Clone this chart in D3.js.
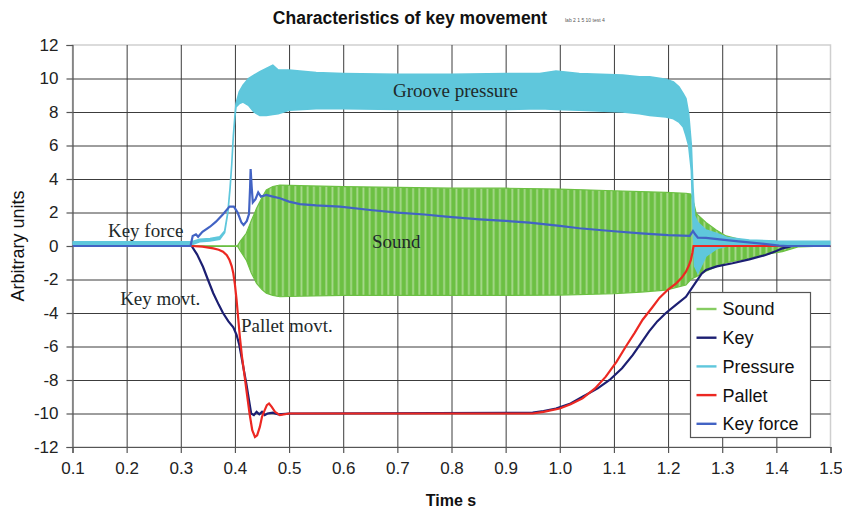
<!DOCTYPE html>
<html>
<head>
<meta charset="utf-8">
<script src="https://cdn.jsdelivr.net/npm/d3@7"></script>
<style>
  html, body { margin: 0; padding: 0; background: #fff; }
  svg { display: block; }
</style>
</head>
<body>
<svg id="chart" width="842" height="509"></svg>
<script>
// ---- data (time in s, values in arbitrary units) ----
const xTicks = [0.1,0.2,0.3,0.4,0.5,0.6,0.7,0.8,0.9,1.0,1.1,1.2,1.3,1.4,1.5];
const yTicks = [-12,-10,-8,-6,-4,-2,0,2,4,6,8,10,12];
const seriesNames = ["Sound","Key","Pressure","Pallet","Key force"];

// Sound: envelope of the waveform
const soundT  = [0.10,0.405,0.41,0.421,0.43,0.44,0.45,0.458,0.47,0.483,0.52,0.60,0.70,0.80,0.90,1.00,1.10,1.15,1.196,1.233,1.242,1.248,1.252,1.27,1.289,1.307,1.35,1.37,1.411,1.44,1.50];
const soundHi = [0,0.02,0.3,0.76,1.5,2.25,2.9,3.34,3.55,3.64,3.6,3.55,3.5,3.45,3.45,3.4,3.3,3.25,3.2,3.15,3.1,2.5,1.95,1.4,0.95,0.6,0.25,0.12,0.03,0,0];
const soundLo = [0,-0.02,-0.3,-0.84,-1.6,-2.23,-2.6,-2.82,-2.95,-3.03,-3.0,-2.95,-2.95,-2.95,-2.95,-2.93,-2.85,-2.75,-2.63,-2.33,-2.0,-1.9,-1.83,-1.5,-1.24,-1.0,-0.73,-0.55,-0.34,-0.05,0];

// Key movement
const keyT = [0.10,0.32,0.33,0.341,0.35,0.36,0.37,0.378,0.388,0.397,0.403,0.408,0.412,0.417,0.421,0.426,0.43,0.435,0.44,0.445,0.45,0.455,0.46,0.47,0.48,0.50,0.95,0.97,0.993,1.02,1.042,1.07,1.092,1.115,1.135,1.15,1.165,1.18,1.196,1.215,1.233,1.242,1.252,1.262,1.27,1.29,1.319,1.35,1.38,1.40,1.411,1.43,1.50];
const keyV = [0,0,-0.5,-1.24,-2.0,-2.82,-3.5,-4.0,-4.5,-4.85,-5.3,-5.9,-6.6,-7.5,-8.2,-9.2,-10.0,-10.1,-9.9,-10.05,-9.9,-10.1,-10.0,-9.95,-10.05,-10,-9.95,-9.85,-9.7,-9.4,-9.0,-8.5,-8.0,-7.3,-6.5,-5.8,-5.1,-4.5,-4.0,-3.5,-3.03,-2.6,-2.13,-1.65,-1.43,-1.22,-1.03,-0.8,-0.54,-0.3,-0.14,0,0];

// Groove pressure: envelope
const pressureT  = [0.10,0.32,0.335,0.354,0.372,0.381,0.387,0.391,0.394,0.397,0.40,0.402,0.408,0.415,0.425,0.435,0.446,0.458,0.47,0.48,0.50,0.55,0.60,0.70,0.80,0.90,0.963,0.993,1.036,1.116,1.147,1.166,1.196,1.21,1.22,1.228,1.233,1.238,1.243,1.246,1.249,1.255,1.27,1.29,1.31,1.35,1.40,1.50];
const pressureHi = [0.25,0.25,0.4,0.45,0.55,0.9,2.05,3.5,4.84,6.6,7.8,8.5,9.2,9.6,10.0,10.2,10.4,10.6,10.8,10.5,10.5,10.35,10.3,10.25,10.25,10.3,10.3,10.45,10.3,10.2,10.1,10.1,9.95,9.8,9.5,9.1,8.8,7.9,6.0,3.5,1.8,1.4,0.95,0.75,0.5,0.35,0.3,0.28];
const pressureLo = [0.08,0.08,0.25,0.3,0.4,0.8,2.0,3.4,4.8,6.5,7.7,8.3,8.5,8.6,8.4,8.0,7.8,7.8,7.85,7.9,8.1,8.2,8.2,8.15,8.15,8.15,8.2,8.15,8.1,8.0,7.9,7.8,7.7,7.6,7.4,7.1,6.6,6.0,4.5,1.5,-1.2,-1.6,-0.6,-0.15,0.0,0.0,0.05,0.08];

// Pallet movement
const palletT = [0.10,0.32,0.34,0.36,0.37,0.378,0.385,0.39,0.394,0.397,0.40,0.403,0.406,0.409,0.413,0.418,0.422,0.427,0.432,0.437,0.441,0.446,0.45,0.455,0.459,0.463,0.468,0.474,0.483,0.50,0.95,0.97,1.00,1.02,1.042,1.065,1.085,1.105,1.122,1.138,1.153,1.17,1.184,1.20,1.215,1.225,1.233,1.238,1.242,1.245,1.247,1.50];
const palletV = [0,0,-0.04,-0.14,-0.22,-0.34,-0.55,-0.84,-1.2,-1.63,-2.3,-3.2,-4.3,-5.4,-6.6,-7.8,-8.8,-10.0,-11.0,-11.4,-11.3,-10.8,-10.2,-9.8,-9.5,-9.4,-9.6,-9.9,-10.1,-10,-10,-9.9,-9.7,-9.45,-9.1,-8.5,-7.8,-6.9,-6.0,-5.2,-4.4,-3.7,-3.1,-2.6,-2.23,-1.9,-1.53,-1.2,-0.84,-0.4,0,0];

// Key force
const forceT = [0.10,0.318,0.322,0.328,0.332,0.34,0.354,0.365,0.378,0.39,0.398,0.405,0.412,0.416,0.422,0.426,0.428,0.429,0.431,0.433,0.438,0.443,0.448,0.458,0.47,0.483,0.50,0.52,0.55,0.594,0.65,0.70,0.75,0.79,0.852,0.90,0.944,1.00,1.036,1.10,1.15,1.20,1.24,1.246,1.25,1.255,1.27,1.295,1.33,1.368,1.405,1.42,1.50];
const forceV = [0,0,0.6,0.7,0.55,0.85,1.15,1.45,1.9,2.35,2.35,2.0,1.4,1.25,1.5,1.9,3.5,4.6,3.5,2.6,2.8,3.2,2.95,3.05,2.95,2.85,2.65,2.5,2.42,2.35,2.15,1.99,1.88,1.75,1.59,1.5,1.39,1.2,1.06,0.88,0.75,0.65,0.6,0.9,0.7,0.5,0.48,0.4,0.28,0.16,0.02,0,0];

// Text annotations drawn inside the plot
const notes = [
  {text: "Groove pressure", t: 0.692, v: 8.9},
  {text: "Sound",           t: 0.653, v: -0.1},
  {text: "Key force",       t: 0.1655, v: 0.55},
  {text: "Key movt.",       t: 0.188, v: -3.5},
  {text: "Pallet movt.",    t: 0.411, v: -5.15}
];

// ---- layout ----
const svg = d3.select("#chart");
const x = d3.scaleLinear().domain([0.1, 1.5]).range([72.5, 830.5]);
const y = d3.scaleLinear().domain([-12, 12]).range([447, 45]);
const colors = {
  "Sound": "#86cc62", "Key": "#1c1f72", "Pressure": "#5fc7dc",
  "Pallet": "#ec2822", "Key force": "#4263c4"
};
const sans = "'Liberation Sans', Arial, sans-serif";
const serif = "'Liberation Serif', 'Times New Roman', serif";

// stripe pattern for the sound waveform
const defs = svg.append("defs");
const pat = defs.append("pattern").attr("id", "soundFill")
  .attr("patternUnits", "userSpaceOnUse").attr("width", 6.2).attr("height", 20);
pat.append("rect").attr("width", 6.2).attr("height", 20).attr("fill", "#6cc043");
pat.append("rect").attr("x", 3).attr("width", 1.8).attr("height", 20).attr("fill", "#a7d98c");

defs.append("clipPath").attr("id", "plotClip").append("rect")
  .attr("x", 72.5).attr("y", 45).attr("width", 758).attr("height", 402);

// plot frame (light) and grid (dark)
svg.append("rect").attr("x", 72.5).attr("y", 45).attr("width", 758).attr("height", 402)
  .attr("fill", "none").attr("stroke", "#cfcfcf").attr("stroke-width", 1.5);

const gridX = svg.append("g").attr("transform", "translate(0,447)")
  .call(d3.axisBottom(x).tickValues(xTicks.slice(1, -1)).tickSize(-402).tickFormat(""));
gridX.select(".domain").remove();
gridX.selectAll("line").attr("stroke", "#3c3c3c").attr("stroke-width", 1);

const gridY = svg.append("g").attr("transform", "translate(72.5,0)")
  .call(d3.axisLeft(y).tickValues(yTicks.slice(1, -1)).tickSize(-758).tickFormat(""));
gridY.select(".domain").remove();
gridY.selectAll("line").attr("stroke", "#3c3c3c").attr("stroke-width", 1);

// axes
const xAxis = svg.append("g").attr("transform", "translate(0,447)")
  .call(d3.axisBottom(x).tickValues(xTicks).tickSize(6).tickPadding(9).tickFormat(d3.format(".1f")));
const yAxis = svg.append("g").attr("transform", "translate(72.5,0)")
  .call(d3.axisLeft(y).tickValues(yTicks).tickSize(6).tickPadding(8).tickFormat(d => d));
[xAxis, yAxis].forEach(a => {
  a.select(".domain").attr("stroke", "#555").attr("stroke-width", 1.2);
  a.selectAll(".tick line").attr("stroke", "#555").attr("stroke-width", 1.2);
  a.selectAll(".tick text").attr("font-family", sans).attr("font-size", 17).attr("fill", "#222");
});

// series
const plot = svg.append("g").attr("clip-path", "url(#plotClip)");
const zip = (ts, vs) => ts.map((t, i) => [t, vs[i]]);
const line = d3.line().x(d => x(d[0])).y(d => y(d[1]));
const band = d3.area().x(d => x(d.t)).y0(d => y(d.lo)).y1(d => y(d.hi));

const soundData = soundT.map((t, i) => ({t, hi: soundHi[i], lo: soundLo[i]}));
plot.append("path").datum(soundData).attr("d", band)
  .attr("fill", "url(#soundFill)").attr("stroke", "#6cc043").attr("stroke-width", 1.2);

plot.append("path").datum(zip(keyT, keyV)).attr("d", line)
  .attr("fill", "none").attr("stroke", colors["Key"]).attr("stroke-width", 2.2);

const pressData = pressureT.map((t, i) => ({t, hi: pressureHi[i], lo: pressureLo[i]}));
plot.append("path").datum(pressData).attr("d", band)
  .attr("fill", colors["Pressure"]).attr("stroke", colors["Pressure"]).attr("stroke-width", 1.6);

plot.append("path").datum(zip(palletT, palletV)).attr("d", line)
  .attr("fill", "none").attr("stroke", colors["Pallet"]).attr("stroke-width", 2.2);

plot.append("path").datum(zip(forceT, forceV)).attr("d", line)
  .attr("fill", "none").attr("stroke", colors["Key force"]).attr("stroke-width", 2.2);

// annotations
svg.append("g").selectAll("text").data(notes).join("text")
  .attr("x", d => x(d.t)).attr("y", d => y(d.v))
  .attr("font-family", serif).attr("font-size", 19).attr("fill", "#1e2a2a")
  .text(d => d.text);

// titles
svg.append("text").attr("x", 410).attr("y", 24).attr("text-anchor", "middle")
  .attr("font-family", sans).attr("font-weight", "bold").attr("font-size", 17.5).attr("fill", "#111")
  .text("Characteristics of key movement");
svg.append("text").attr("x", 565).attr("y", 22)
  .attr("font-family", sans).attr("font-size", 5).attr("fill", "#555")
  .text("lab 2 1 5 10 test 4");
svg.append("text").attr("transform", "translate(24,246) rotate(-90)").attr("text-anchor", "middle")
  .attr("font-family", sans).attr("font-size", 18).attr("fill", "#111")
  .text("Arbitrary units");
svg.append("text").attr("x", 451).attr("y", 506).attr("text-anchor", "middle")
  .attr("font-family", sans).attr("font-weight", "bold").attr("font-size", 16).attr("fill", "#111")
  .text("Time s");

// legend
const lg = svg.append("g").attr("transform", "translate(690.5,292.5)");
lg.append("rect").attr("width", 120).attr("height", 145)
  .attr("fill", "#fff").attr("stroke", "#555").attr("stroke-width", 1.2);
const items = lg.selectAll("g.item").data(seriesNames).join("g")
  .attr("transform", (d, i) => `translate(0,${16.5 + i * 28.7})`);
items.append("line").attr("x1", 6).attr("x2", 26)
  .attr("stroke", d => colors[d]).attr("stroke-width", 2.4);
items.append("text").attr("x", 32).attr("dy", "0.36em")
  .attr("font-family", sans).attr("font-size", 18).attr("fill", "#111")
  .text(d => d);
</script>
</body>
</html>
